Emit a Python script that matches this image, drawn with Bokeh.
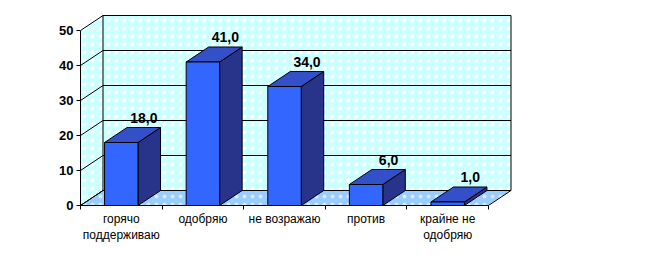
from bokeh.plotting import figure
from bokeh.models import Range1d, FixedTicker, LinearAxis
from bokeh.embed import file_html
from bokeh.resources import INLINE
from bokeh.core.properties import value

categories = ["горячо\nподдерживаю", "одобряю", "не возражаю", "против", "крайне не\nодобряю"]
values = [18.0, 41.0, 34.0, 6.0, 1.0]
y_ticks = [0, 10, 20, 30, 40, 50]

# ---- layout / projection constants (px per unit) ----
PX_X = 81.6
PX_Y = 3.5
DX = 22.5 / PX_X          # depth offset in category units
DY = 15.0 / PX_Y          # depth offset in value units
HALF = 0.205              # half bar width
YMAX = y_ticks[-1]
n = len(categories)

FRAME_W, FRAME_H = 435, 195
p = figure(width=669, height=262, output_backend="svg", toolbar_location=None,
           x_range=Range1d(0, FRAME_W / PX_X), y_range=Range1d(0, FRAME_H / PX_Y),
           x_axis_type=None, y_axis_type=None,
           min_border_left=80, min_border_right=669 - 80 - FRAME_W,
           min_border_top=10, min_border_bottom=262 - 10 - FRAME_H)
p.outline_line_color = None
p.background_fill_color = "white"
p.border_fill_color = "white"

WALL = "#ccffff"
FLOOR = "#99ccff"
FRONT = "#3366ff"
TOP = "#3450c8"
SIDE = "#28348a"

# side wall, back wall, floor
p.patch([0, DX, DX, 0], [0, DY, YMAX + DY, YMAX], fill_color=WALL, line_color=None,
        hatch_pattern="dot", hatch_color="white", hatch_scale=8, hatch_weight=1, hatch_alpha=0.9)
p.patch([DX, n + DX, n + DX, DX], [DY, DY, YMAX + DY, YMAX + DY], fill_color=WALL,
        line_color="black", line_width=1,
        hatch_pattern="dot", hatch_color="white", hatch_scale=8, hatch_weight=1, hatch_alpha=0.9)
p.patch([0, n, n + DX, DX], [0, 0, DY, DY], fill_color=FLOOR, line_color="black", line_width=1,
        hatch_pattern="dot", hatch_color="white", hatch_scale=8, hatch_weight=1, hatch_alpha=0.6)

# gridlines on side and back wall
gx0, gy0, gx1, gy1 = [], [], [], []
for t in y_ticks:
    gx0 += [0, DX]; gy0 += [t, t + DY]
    gx1 += [DX, n + DX]; gy1 += [t + DY, t + DY]
p.segment(gx0, gy0, gx1, gy1, line_color="black", line_width=1)

# bars
for i, v in enumerate(values):
    c = i + 0.5
    l, r = c - HALF, c + HALF
    p.patch([r, r + DX, r + DX, r], [0, DY, v + DY, v], fill_color=SIDE, line_color="black", line_width=1)
    p.patch([l, r, r + DX, l + DX], [v, v, v + DY, v + DY], fill_color=TOP, line_color="black", line_width=1)
    p.quad(left=[l], right=[r], bottom=[0], top=[v], fill_color=FRONT, line_color="black", line_width=1)

# value labels
lab_x = [i + 0.5 + DX for i in range(n)]
lab_y = [v + DY for v in values]
lab_t = [f"{v:.1f}".replace(".", ",") for v in values]
p.text(lab_x, lab_y, text=lab_t, text_align="center", text_baseline="bottom", y_offset=-5,
       text_font=value("Liberation Sans"), text_font_style="bold", text_font_size="14px",
       text_color="black")

# axes
yaxis = LinearAxis(ticker=FixedTicker(ticks=y_ticks), bounds=(0, YMAX),
                   major_tick_out=4, major_tick_in=0, minor_tick_out=0, minor_tick_in=0,
                   major_label_standoff=3, major_label_text_font="Liberation Sans",
                   major_label_text_font_style="bold", major_label_text_font_size="13px",
                   major_label_text_color="black", axis_line_color="black")
p.add_layout(yaxis, "left")

xaxis = LinearAxis(ticker=FixedTicker(ticks=[i + 0.5 for i in range(n)], minor_ticks=list(range(n + 1))),
                   bounds=(0, n), major_tick_out=0, major_tick_in=0, minor_tick_out=4, minor_tick_in=0,
                   major_label_overrides={i + 0.5: categories[i] for i in range(n)},
                   major_label_standoff=2, major_label_text_font="Liberation Sans",
                   major_label_text_font_size="12px", major_label_text_color="black",
                   major_label_text_line_height=1.15,
                   axis_line_color="black")
p.add_layout(xaxis, "below")

open("out.html", "w").write(file_html(p, INLINE))
